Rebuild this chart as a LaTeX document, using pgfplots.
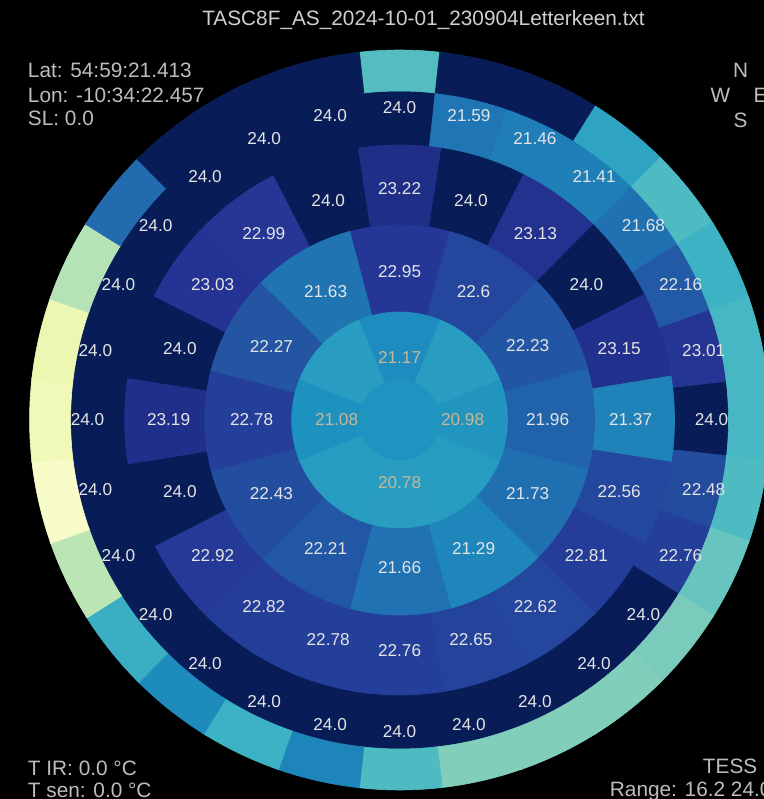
\documentclass[border=0pt]{standalone}
\usepackage{fontspec}
\setmainfont{Liberation Sans}
\usepackage{xcolor}
\usepackage{pgfplots}
\usepackage{pgfplotstable}
\pgfplotsset{compat=1.18}

\definecolor{txt}{HTML}{BDBDBD}
\definecolor{ttl}{HTML}{CFCFCF}
\definecolor{lab}{HTML}{E4E4E4}
\definecolor{labd}{HTML}{C9B793}

% azimuth (deg, N=0, clockwise) and sky brightness (mag/arcsec^2)
\pgfplotstableread{
az val
0 19.8
12.857 24.0
25.714 24.0
38.571 20.6
51.429 19.9
64.286 20.2
77.143 20.0
90 20.0
102.857 19.9
115.714 19.5
128.571 19.2
141.429 19.1
154.286 19.1
167.143 19.1
180 19.9
192.857 21.3
205.714 20.2
218.571 21.2
231.429 20.3
244.286 18.3
257.143 16.6
270 17.0
282.857 17.2
295.714 18.4
308.571 21.8
321.429 24.0
334.286 24.0
347.143 24.0
}\ringE

\pgfplotstableread{
az val lab
0 24.0 24.0
12.857 21.59 21.59
25.714 21.46 21.46
38.571 21.41 21.41
51.429 21.68 21.68
64.286 22.16 22.16
77.143 23.01 23.01
90 24.0 24.0
102.857 22.48 22.48
115.714 22.76 22.76
128.571 24.0 24.0
141.429 24.0 24.0
154.286 24.0 24.0
167.143 24.0 24.0
180 24.0 24.0
192.857 24.0 24.0
205.714 24.0 24.0
218.571 24.0 24.0
231.429 24.0 24.0
244.286 24.0 24.0
257.143 24.0 24.0
270 24.0 24.0
282.857 24.0 24.0
295.714 24.0 24.0
308.571 24.0 24.0
321.429 24.0 24.0
334.286 24.0 24.0
347.143 24.0 24.0
}\ringA

\pgfplotstableread{
az val lab
0 23.22 23.22
18 24.0 24.0
36 23.13 23.13
54 24.0 24.0
72 23.15 23.15
90 21.37 21.37
108 22.56 22.56
126 22.81 22.81
144 22.62 22.62
162 22.65 22.65
180 22.76 22.76
198 22.78 22.78
216 22.82 22.82
234 22.92 22.92
252 24.0 24.0
270 23.19 23.19
288 24.0 24.0
306 23.03 23.03
324 22.99 22.99
342 24.0 24.0
}\ringB

\pgfplotstableread{
az val lab
0 22.95 22.95
30 22.6 22.6
60 22.23 22.23
90 21.96 21.96
120 21.73 21.73
150 21.29 21.29
180 21.66 21.66
210 22.21 22.21
240 22.43 22.43
270 22.78 22.78
300 22.27 22.27
330 21.63 21.63
}\ringC

\pgfplotstableread{
az val lab
0 21.17 21.17
90 20.98 20.98
180 20.78 20.78
270 21.08 21.08
}\ringD

\pgfplotstableread{
az val
45 20.75
135 20.8
225 20.8
315 20.75
}\ringDx

\pgfplotstableread{
az val
0 21.0
}\zenith

\pgfdeclareplotmark{blank}{}

\pgfplotsset{
  % inner radius, outer radius, half width (deg), radius of the point (px)
  sectors/.style n args={4}{
    scatter, only marks, mark=blank, data cs=polar, point meta=explicit,
    visualization depends on={\thisrow{az} \as \az},
    scatter/@pre marker code/.code={%
      \pgfplotscolormapdefinemappedcolor{\pgfplotspointmetatransformed}%
      \pgfmathsetmacro\th{90-\az}%
      \pgfmathsetmacro\cx{-0.5*#4*cos(\th)}%
      \pgfmathsetmacro\cy{-0.5*#4*sin(\th)}%
      \pgfmathsetmacro\ta{\th-#3-0.2}%
      \pgfmathsetmacro\tb{\th+#3+0.2}%
      \pgfmathsetmacro\ri{0.5*#1}%
      \pgfmathsetmacro\ro{0.5*#2}%
      \filldraw[mapped color, line width=0.3pt]
        ([shift={(\cx pt,\cy pt)}]\ta:\ro pt) arc[start angle=\ta, end angle=\tb, radius=\ro pt]
        -- ([shift={(\cx pt,\cy pt)}]\tb:\ri pt) arc[start angle=\tb, end angle=\ta, radius=\ri pt] -- cycle;
    },
    scatter/@post marker code/.code={},
  },
  labels/.style={
    only marks, mark=blank, data cs=polar, point meta=explicit symbolic,
    nodes near coords,
    every node near coord/.append style={anchor=center, inner sep=0pt,
      font=\fontsize{8.6}{10}\selectfont, text=#1},
  },
}

\begin{document}
\pagecolor{black}
\begin{tikzpicture}[every node/.append style={inner sep=0pt}]
\begin{axis}[
  x=0.5pt, y=0.5pt,
  xmin=-394, xmax=364, ymin=-379, ymax=420,
  xtick=\empty, ytick=\empty,
  axis line style={draw=none},
  axis background/.style={fill=black},
  clip=false,
  colormap={ylgnbu}{rgb255=(255,255,217) rgb255=(237,248,177) rgb255=(199,233,180)
    rgb255=(127,205,187) rgb255=(65,182,196) rgb255=(29,145,192) rgb255=(34,94,168)
    rgb255=(37,52,148) rgb255=(8,29,88)},
  point meta min=16.2, point meta max=24.0,
]
\addplot[sectors={275}{330}{6.4286}{312}] table[x expr={90-\thisrow{az}}, y expr={312}, meta=val]{\ringA};
\addplot[sectors={195}{275}{9}{231}] table[x expr={90-\thisrow{az}}, y expr={231}, meta=val]{\ringB};
\addplot[sectors={108}{195}{15}{148}] table[x expr={90-\thisrow{az}}, y expr={148}, meta=val]{\ringC};
\addplot[sectors={40}{108}{22.5}{63}] table[x expr={90-\thisrow{az}}, y expr={63}, meta=val]{\ringD};
\addplot[sectors={40}{108}{22.5}{63}] table[x expr={90-\thisrow{az}}, y expr={63}, meta=val]{\ringDx};
\addplot[sectors={0}{40}{180}{0}] table[x expr={90-\thisrow{az}}, y expr={0}, meta=val]{\zenith};
\addplot[sectors={329}{370}{6.4286}{350}] table[x expr={90-\thisrow{az}}, y expr={350}, meta=val]{\ringE};

\addplot[labels=lab] table[x expr={90-\thisrow{az}}, y expr={312}, meta=lab]{\ringA};
\addplot[labels=lab] table[x expr={90-\thisrow{az}}, y expr={231}, meta=lab]{\ringB};
\addplot[labels=lab] table[x expr={90-\thisrow{az}}, y expr={148}, meta=lab]{\ringC};
\addplot[labels=labd] table[x expr={90-\thisrow{az}}, y expr={63}, meta=lab]{\ringD};

\node[text=ttl, font=\fontsize{10.4}{12}\selectfont] at (axis cs:24,400) {TASC8F\_AS\_2024-10-01\_230904Letterkeen.txt};
\node[text=txt, anchor=west, font=\fontsize{10.4}{12}\selectfont] at (axis cs:-372,350) {Lat: 54:59:21.413};
\node[text=txt, anchor=west, font=\fontsize{10.4}{12}\selectfont] at (axis cs:-372,325) {Lon: -10:34:22.457};
\node[text=txt, anchor=west, font=\fontsize{10.4}{12}\selectfont] at (axis cs:-372,302) {SL: 0.0};
\node[text=txt, font=\fontsize{10.4}{12}\selectfont] at (axis cs:341,350) {N};
\node[text=txt, font=\fontsize{10.4}{12}\selectfont] at (axis cs:321,325) {W};
\node[text=txt, font=\fontsize{10.4}{12}\selectfont] at (axis cs:361,325) {E};
\node[text=txt, font=\fontsize{10.4}{12}\selectfont] at (axis cs:341,300) {S};
\node[text=txt, anchor=west, font=\fontsize{10.4}{12}\selectfont] at (axis cs:-372,-348) {T IR: 0.0 °C};
\node[text=txt, anchor=west, font=\fontsize{10.4}{12}\selectfont] at (axis cs:-372,-370) {T sen: 0.0 °C};
\node[text=txt, anchor=west, font=\fontsize{10.4}{12}\selectfont] at (axis cs:303,-346) {TESS ID};
\node[text=txt, anchor=west, font=\fontsize{10.4}{12}\selectfont] at (axis cs:210,-371) {Range: 16.2 24.0};

\coordinate (bl) at (rel axis cs:0,0);
\coordinate (tr) at (rel axis cs:1,1);
\end{axis}
\pgfresetboundingbox
\useasboundingbox (bl) rectangle (tr);
\end{tikzpicture}
\end{document}
